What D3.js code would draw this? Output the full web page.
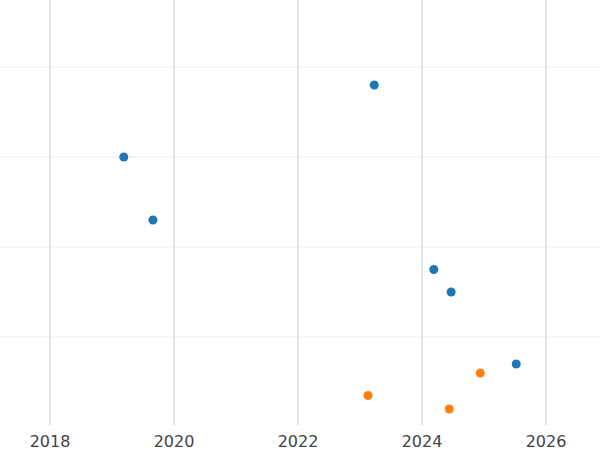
<!DOCTYPE html>
<html><head><meta charset="utf-8">
<script src="https://cdn.jsdelivr.net/npm/d3@7"></script>
<style>body{margin:0;background:#fff}</style></head>
<body><svg id="c" width="600" height="450"></svg>
<script>
const xTicks = [2018, 2020, 2022, 2024, 2026];
const yGrid = [1, 2, 3, 4];
const blueX = [2019.19, 2019.66, 2023.23, 2024.19, 2024.47, 2025.52];
const blueY = [3.0, 2.3, 3.8, 1.75, 1.5, 0.7];
const orangeX = [2024.94, 2023.13, 2024.44];
const orangeY = [0.6, 0.35, 0.2];

const svg = d3.select("#c");
const x = d3.scaleLinear().domain([2018 - 50/62, 2026 + 54/62]).range([0, 600]);
const y = d3.scaleLinear().domain([0, 427/90]).range([427, 0]);

svg.append("g").selectAll("line").data(yGrid).join("line")
  .attr("x1", 0).attr("x2", 600).attr("y1", d => y(d)).attr("y2", d => y(d))
  .attr("stroke", "#ebebeb").attr("stroke-width", 1);
svg.append("g").selectAll("line").data(xTicks).join("line")
  .attr("x1", d => x(d)).attr("x2", d => x(d)).attr("y1", 0).attr("y2", 425)
  .attr("stroke", "#e5e5e5").attr("stroke-width", 2);
svg.append("g").selectAll("text").data(xTicks).join("text")
  .attr("x", d => x(d)).attr("y", 447).attr("text-anchor", "middle")
  .attr("font-family", "DejaVu Sans").attr("font-size", 16).attr("fill", "#444")
  .text(d => d);

function pts(xs, ys, col) {
  svg.append("g").selectAll("circle").data(xs).join("circle")
    .attr("cx", d => x(d)).attr("cy", (d, i) => y(ys[i])).attr("r", 4.5).attr("fill", col);
}
pts(blueX, blueY, "#1f77b4");
pts(orangeX, orangeY, "#ff7f0e");
</script></body></html>
